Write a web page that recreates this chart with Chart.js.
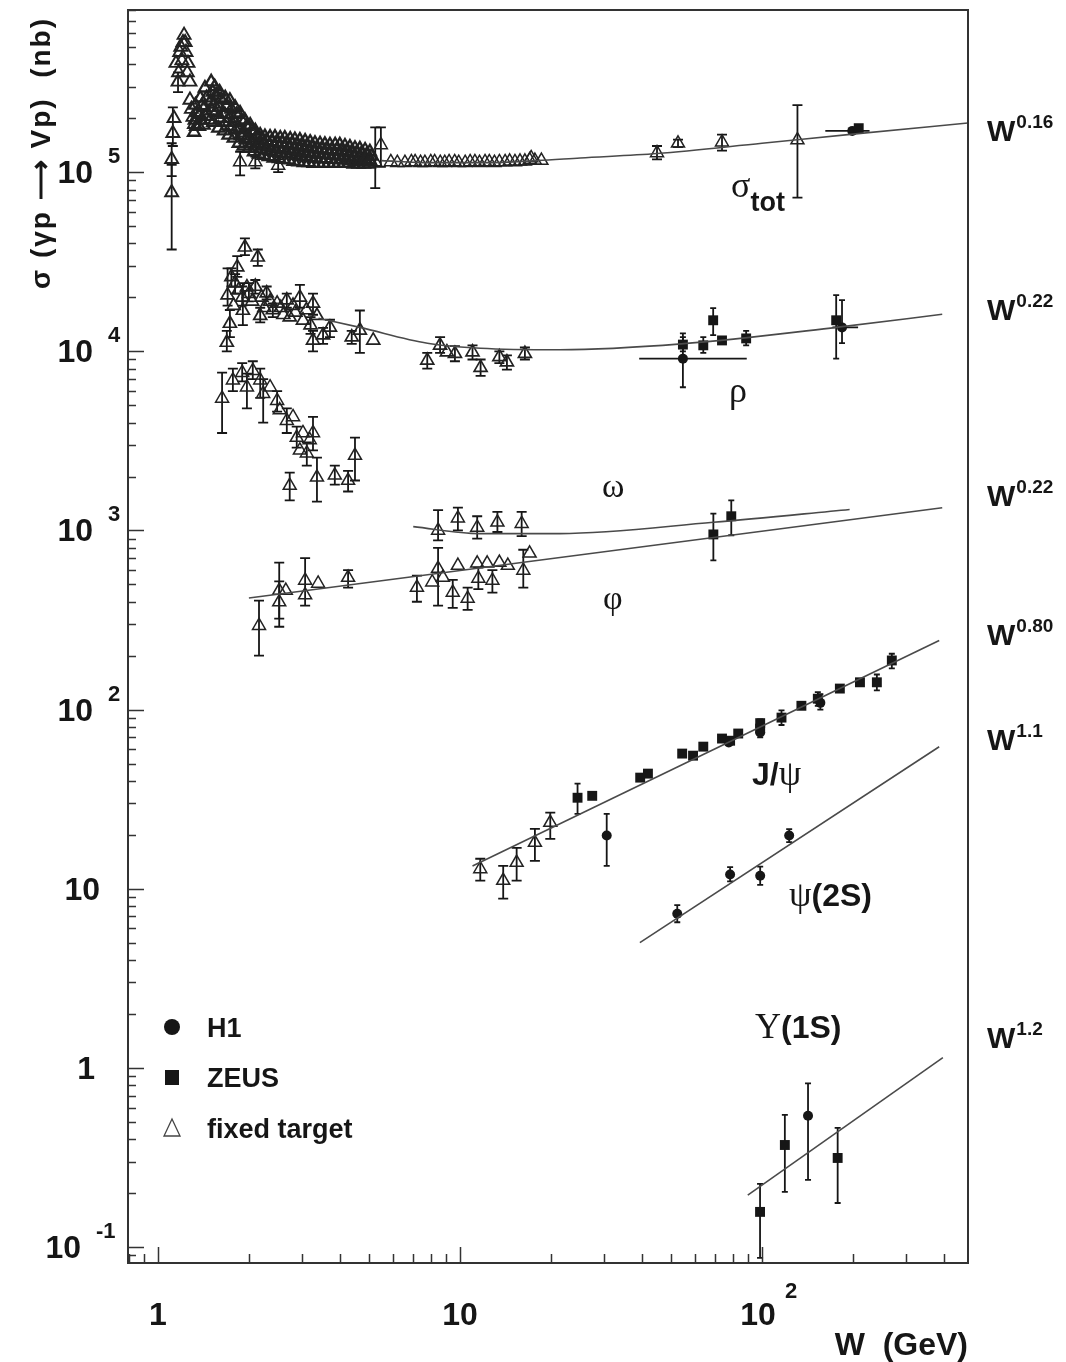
<!DOCTYPE html>
<html>
<head>
<meta charset="utf-8">
<script src="https://cdn.jsdelivr.net/npm/chart.js@4.4.0/dist/chart.umd.min.js"></script>
<style>
  body { margin: 0; background: #fff; }
  canvas { display: block; }
</style>
</head>
<body>
<canvas id="chart" width="1066" height="1362"></canvas>
<script>
// Each row: [W (GeV), sigma (nb), sigma low, sigma high, W low, W high]

// total photoabsorption, fixed target
const totFixed = [
  [1.11, 7.7e4, 3.7e4, 1.1e5], [1.11, 1.18e5, 9.5e4, 1.45e5], [1.12, 1.65e5, 1.4e5, 2.3e5], [1.13, 2.0e5],
  [1.147, 4.06e5], [1.165, 3.19e5, 2.8e5, 3.6e5], [1.17, 3.6e5], [1.18, 4.67e5], [1.19, 5.0e5], [1.2, 4.2e5],
  [1.21, 5.3e5], [1.22, 5.82e5], [1.23, 5.3e5], [1.238, 4.67e5], [1.25, 3.6e5], [1.257, 4.06e5],
  [1.276, 3.19e5], [1.276, 2.53e5], [1.29, 2.25e5], [1.306, 2.03e5], [1.32, 1.85e5]
];
// dense band between the resonances and ~5 GeV (five rows read from top to bottom)
const bandW    = [1.33, 1.38, 1.43, 1.5, 1.54, 1.6, 1.67, 1.73, 1.8, 1.87, 1.94, 2.02, 2.1, 2.18, 2.26, 2.35, 2.44, 2.54, 2.63, 2.74, 2.84, 2.95, 3.07, 3.19, 3.31, 3.44, 3.57, 3.71, 3.86, 4.0, 4.16, 4.32, 4.49, 4.66, 4.85, 5.03];
const bandHi   = [2.37e5, 2.6e5, 2.95e5, 3.19e5, 3.0e5, 2.8e5, 2.6e5, 2.52e5, 2.3e5, 2.14e5, 1.95e5, 1.83e5, 1.7e5, 1.61e5, 1.58e5, 1.57e5, 1.57e5, 1.55e5, 1.55e5, 1.53e5, 1.52e5, 1.51e5, 1.49e5, 1.47e5, 1.45e5, 1.44e5, 1.43e5, 1.42e5, 1.42e5, 1.42e5, 1.4e5, 1.38e5, 1.36e5, 1.35e5, 1.33e5, 1.3e5];
const bandUp   = [2.15e5, 2.35e5, 2.6e5, 2.8e5, 2.7e5, 2.55e5, 2.35e5, 2.25e5, 2.1e5, 1.95e5, 1.8e5, 1.7e5, 1.6e5, 1.53e5, 1.5e5, 1.48e5, 1.47e5, 1.46e5, 1.45e5, 1.44e5, 1.42e5, 1.41e5, 1.4e5, 1.38e5, 1.36e5, 1.35e5, 1.34e5, 1.33e5, 1.33e5, 1.32e5, 1.31e5, 1.29e5, 1.28e5, 1.27e5, 1.25e5, 1.23e5];
const bandMid  = [1.95e5, 2.1e5, 2.3e5, 2.5e5, 2.4e5, 2.3e5, 2.1e5, 2.0e5, 1.9e5, 1.75e5, 1.65e5, 1.55e5, 1.5e5, 1.45e5, 1.42e5, 1.4e5, 1.38e5, 1.37e5, 1.36e5, 1.35e5, 1.33e5, 1.32e5, 1.3e5, 1.29e5, 1.28e5, 1.27e5, 1.26e5, 1.25e5, 1.24e5, 1.23e5, 1.22e5, 1.21e5, 1.2e5, 1.19e5, 1.18e5, 1.17e5];
const bandDown = [1.8e5, 1.95e5, 2.05e5, 2.2e5, 2.15e5, 2.0e5, 1.9e5, 1.8e5, 1.72e5, 1.6e5, 1.52e5, 1.45e5, 1.4e5, 1.35e5, 1.33e5, 1.31e5, 1.29e5, 1.28e5, 1.27e5, 1.26e5, 1.24e5, 1.23e5, 1.22e5, 1.21e5, 1.2e5, 1.19e5, 1.19e5, 1.18e5, 1.18e5, 1.17e5, 1.17e5, 1.16e5, 1.15e5, 1.15e5, 1.14e5, 1.14e5];
const bandLo   = [1.67e5, 1.8e5, 1.83e5, 1.95e5, 1.9e5, 1.76e5, 1.7e5, 1.61e5, 1.55e5, 1.45e5, 1.4e5, 1.36e5, 1.3e5, 1.26e5, 1.24e5, 1.22e5, 1.2e5, 1.19e5, 1.18e5, 1.17e5, 1.15e5, 1.14e5, 1.13e5, 1.13e5, 1.12e5, 1.12e5, 1.12e5, 1.12e5, 1.12e5, 1.12e5, 1.12e5, 1.12e5, 1.11e5, 1.11e5, 1.11e5, 1.11e5];
const totFixedHigh = [
  [1.87, 1.14e5, 9.6e4, 1.3e5], [2.1, 1.14e5, 1.05e5, 1.22e5], [2.5, 1.09e5, 1.0e5, 1.18e5],
  [5.24, 1.14e5, 8.15e4, 1.78e5], [5.47, 1.42e5, 1.07e5, 1.78e5], [5.9, 1.14e5], [6.2, 1.13e5],
  [6.57, 1.13e5], [6.9, 1.14e5], [7.1, 1.14e5], [7.4, 1.13e5], [7.65, 1.13e5], [8.0, 1.14e5],
  [8.24, 1.14e5], [8.6, 1.13e5], [8.9, 1.13e5], [9.2, 1.14e5], [9.6, 1.14e5], [9.9, 1.13e5],
  [10.4, 1.13e5], [10.8, 1.14e5], [11.2, 1.14e5], [11.6, 1.13e5], [12.1, 1.14e5], [12.5, 1.14e5],
  [13.0, 1.13e5], [13.5, 1.14e5], [14.1, 1.14e5], [14.6, 1.15e5], [15.2, 1.14e5], [15.8, 1.15e5],
  [16.4, 1.15e5], [17.0, 1.17e5], [17.2, 1.2e5], [17.7, 1.16e5], [18.6, 1.16e5],
  [44.9, 1.28e5, 1.18e5, 1.4e5], [52.7, 1.45e5, 1.38e5, 1.52e5], [73.7, 1.47e5, 1.32e5, 1.62e5],
  [131, 1.51e5, 7.2e4, 2.37e5]
];
const totH1   = [[199, 1.7e5, null, null, 162, 227]];
const totZeus = [[209, 1.76e5]];

// rho
const rhoFixed = [
  [1.94, 3.81e4, 3.44e4, 4.27e4], [2.14, 3.35e4, 3.0e4, 3.7e4], [1.83, 2.95e4, 2.6e4, 3.4e4],
  [1.7, 2.06e4, 1.8e4, 2.9e4], [1.73, 1.43e4, 1.2e4, 1.7e4], [1.69, 1.12e4, 1.0e4, 1.3e4],
  [1.75, 2.6e4, 2.3e4, 2.9e4], [1.78, 1.8e4], [1.8, 2.4e4, 2.1e4, 2.7e4], [1.85, 2.2e4],
  [1.9, 2.0e4, 1.8e4, 2.3e4], [1.91, 1.69e4, 1.4e4, 2.4e4], [1.97, 2.28e4], [2.0, 2.1e4, 1.9e4, 2.4e4],
  [2.05, 1.9e4], [2.1, 2.3e4, 2.1e4, 2.5e4], [2.18, 1.58e4, 1.45e4, 1.75e4], [2.2, 2.0e4],
  [2.25, 1.75e4], [2.29, 2.11e4, 1.95e4, 2.3e4], [2.35, 1.9e4], [2.4, 1.7e4, 1.55e4, 1.85e4],
  [2.48, 1.85e4], [2.55, 1.75e4], [2.6, 1.6e4], [2.67, 1.93e4, 1.75e4, 2.1e4], [2.73, 1.55e4],
  [2.8, 1.8e4], [2.85, 1.65e4], [2.95, 2.0e4, 1.75e4, 2.35e4], [3.02, 1.49e4], [3.1, 1.7e4],
  [3.2, 1.4e4, 1.25e4, 1.55e4], [3.26, 1.85e4, 1.6e4, 2.1e4], [3.36, 1.58e4], [3.26, 1.15e4, 1.0e4, 1.3e4],
  [3.52, 1.23e4, 1.1e4, 1.35e4], [3.71, 1.36e4, 1.2e4, 1.5e4], [4.38, 1.2e4, 1.1e4, 1.3e4],
  [4.66, 1.31e4, 9.8e3, 1.69e4], [5.16, 1.15e4], [7.79, 8.9e3, 8.0e3, 9.8e3], [8.59, 1.08e4, 9.8e3, 1.2e4],
  [9.05, 9.9e3], [9.62, 9.7e3, 8.8e3, 1.07e4], [11.0, 9.9e3, 9.0e3, 1.08e4], [11.7, 8.1e3, 7.3e3, 9.0e3],
  [13.5, 9.3e3, 8.6e3, 1.0e4], [14.3, 8.7e3, 7.9e3, 9.5e3], [16.4, 9.7e3, 9.0e3, 1.05e4]
];
const rhoZeus = [
  [54.7, 1.09e4, 1.0e4, 1.2e4], [63.9, 1.08e4, 9.8e3, 1.2e4], [68.9, 1.49e4, 1.23e4, 1.74e4],
  [73.7, 1.15e4], [88.6, 1.18e4, 1.08e4, 1.3e4], [176, 1.49e4, 9.1e3, 2.06e4]
];
const rhoH1 = [[54.7, 9.1e3, 6.3e3, 1.26e4, 39.2, 89], [184, 1.36e4, 1.11e4, 1.93e4, 171, 208]];

// omega
const omegaFixed = [
  [1.63, 5.46e3, 3.5e3, 7.6e3], [1.77, 6.9e3, 6.0e3, 8.0e3], [1.9, 7.6e3, 6.8e3, 8.6e3],
  [1.97, 6.3e3, 4.8e3, 7.5e3], [2.06, 7.8e3, 7.0e3, 8.8e3], [2.18, 6.9e3, 5.5e3, 8.0e3],
  [2.23, 5.8e3, 4.0e3, 7.0e3], [2.35, 6.3e3], [2.48, 5.3e3, 4.6e3, 6.0e3], [2.53, 4.7e3],
  [2.67, 4.1e3, 3.5e3, 4.8e3], [2.8, 4.3e3], [2.88, 3.3e3, 2.9e3, 3.8e3], [2.95, 2.8e3],
  [3.02, 3.5e3], [3.11, 2.7e3, 2.3e3, 3.1e3], [3.18, 3.2e3], [3.26, 3.5e3, 2.8e3, 4.3e3],
  [2.73, 1.78e3, 1.47e3, 2.1e3], [3.36, 1.98e3, 1.45e3, 2.55e3], [3.85, 2.03e3, 1.8e3, 2.3e3],
  [4.26, 1.9e3, 1.65e3, 2.15e3], [4.49, 2.62e3, 1.9e3, 3.3e3],
  [8.46, 1.0e3, 8.8e2, 1.3e3], [9.84, 1.17e3, 1.0e3, 1.34e3], [11.4, 1.04e3, 9.0e2, 1.2e3],
  [13.3, 1.11e3, 9.8e2, 1.27e3], [16.0, 1.09e3, 9.3e2, 1.27e3]
];
const omegaZeus = [[79.1, 1.2e3, 9.4e2, 1.47e3]];

// phi
const phiFixed = [
  [2.16, 294, 200, 406], [2.52, 462, 322, 662], [2.52, 398, 290, 520], [2.65, 462],
  [3.07, 526, 380, 700], [3.07, 436], [3.39, 506], [4.26, 546, 480, 600],
  [7.2, 481, 400, 560], [8.09, 514], [8.46, 613, 380, 800], [8.78, 546], [9.46, 451, 370, 530],
  [9.84, 637], [10.6, 417, 360, 480], [11.4, 655], [11.5, 540, 470, 620], [12.3, 655],
  [12.8, 526, 450, 600], [13.5, 662], [14.4, 637], [16.2, 598, 480, 780], [17.0, 745]
];
const phiZeus = [[69, 950, 680, 1.24e3]];

// J/psi
const jpsiFixed = [
  [11.67, 12.9, 11.1, 14.7], [13.9, 11.1, 8.8, 13.4], [15.4, 14.0, 11.1, 16.9],
  [17.7, 18.1, 14.3, 21.6], [19.9, 23.4, 19.0, 26.6]
];
const jpsiZeus = [
  [24.5, 32.2, 26.2, 38.6], [27.4, 33.0], [39.5, 41.7], [41.9, 43.9], [54.4, 56.8], [59.1, 55.3],
  [63.9, 62.1], [73.7, 68.9], [78.4, 67], [83.4, 73.5], [98.6, 78.3, 70, 88], [98.6, 84],
  [116, 90.2, 82, 99], [135, 105], [153, 115, 105, 125], [181, 131], [211, 142],
  [240, 142, 128, 157], [269, 188, 170, 205]
];
const jpsiH1 = [[30.6, 19.8, 13.4, 26.2], [77.6, 65.5], [98.6, 74.5], [156, 109, 100, 122]];

// psi(2S), Upsilon(1S)
const psi2sH1  = [[52.4, 7.25, 6.5, 8.1], [78.4, 12.0, 11.0, 13.2], [98.6, 11.8, 10.5, 13.3], [123, 19.8, 18.2, 21.5]];
const upsZeus  = [[98.5, 0.157, 0.087, 0.225], [119, 0.371, 0.203, 0.546], [178, 0.314, 0.176, 0.462]];
const upsH1    = [[142, 0.54, 0.237, 0.82]];

// fitted curves
const fitTot   = [[5.5, 1.16e5], [8, 1.13e5], [12, 1.13e5], [18, 1.16e5], [25, 1.2e5], [45, 1.27e5], [100, 1.45e5], [200, 1.63e5], [480, 1.88e5]];
const fitRho   = [[3.4, 1.53e4], [4.66, 1.36e4], [7.8, 1.11e4], [11.7, 1.04e4], [21.4, 1.02e4], [54, 1.1e4], [176, 1.36e4], [395, 1.61e4]];
const fitOmega = [[7.0, 1.05e3], [11.6, 9.6e2], [21.4, 9.6e2], [69, 1.11e3], [195, 1.31e3]];
const fitPhi   = [[2.0, 420], [395, 1.34e3]];
const fitJpsi  = [[11.0, 13.4], [386, 243]];
const fitPsi2s = [[39.4, 5.0], [386, 62]];
const fitUps   = [[89.7, 0.195], [397, 1.14]];

// axes
const xMin = 0.7956, xMax = 480.8, yMin = 0.0814, yMax = 8.04e5;
const yTickVals = [1e5, 1e4, 1e3, 1e2, 10, 1, 0.1];
const yTickBase = ['10', '10', '10', '10', '10', '1', '10'];
const yTickExp  = ['5', '4', '3', '2', '', '', '-1'];
const xTickVals = [1, 10, 100];
const xTickBase = ['1', '10', '10'];
const xTickExp  = ['', '', '2'];
const fitPowers = ['0.16', '0.22', '0.22', '0.80', '1.1', '1.2'];

const INK = '#161616';

function pts(rows) {
  return rows.map(r => ({ x: r[0], y: r[1], yl: r[2], yh: r[3], xl: r[4], xh: r[5] }));
}

const bandRows = [];
bandW.forEach((w, i) => {
  bandRows.push([w, bandHi[i]], [w * 1.012, bandUp[i]], [w * 0.996, bandMid[i]],
                [w * 1.006, bandDown[i]], [w * 0.99, bandLo[i]]);
});

function fixedSet(rows, r, bw) {
  return {
    data: pts(rows), errCap: 5,
    pointStyle: 'triangle', pointRadius: r || 7.5, pointBorderWidth: bw || 1.5,
    pointBorderColor: '#222', pointBackgroundColor: 'rgba(255,255,255,0)'
  };
}
function zeusSet(rows) {
  return {
    data: pts(rows), errCap: 3,
    pointStyle: 'rect', pointRadius: 7, pointBorderWidth: 0,
    pointBorderColor: INK, pointBackgroundColor: INK
  };
}
function h1Set(rows) {
  return {
    data: pts(rows), errCap: 3,
    pointStyle: 'circle', pointRadius: 5, pointBorderWidth: 0,
    pointBorderColor: INK, pointBackgroundColor: INK
  };
}
function fitSet(rows, curved) {
  return {
    data: pts(rows), showLine: true, pointRadius: 0,
    borderColor: '#4a4a4a', borderWidth: 1.6,
    tension: curved ? 0.4 : 0,
    cubicInterpolationMode: curved ? 'monotone' : 'default'
  };
}

// error bars, drawn with the chart's own scales
const errorBars = {
  id: 'errorBars',
  beforeDatasetsDraw(chart) {
    const { ctx, chartArea: a } = chart;
    const xs = chart.scales.x, ys = chart.scales.y;
    ctx.save();
    ctx.beginPath();
    ctx.rect(a.left, a.top, a.right - a.left, a.bottom - a.top);
    ctx.clip();
    ctx.strokeStyle = INK;
    ctx.lineWidth = 1.8;
    chart.data.datasets.forEach(ds => {
      if (!ds.errCap) return;
      const cap = ds.errCap;
      ds.data.forEach(p => {
        const px = xs.getPixelForValue(p.x), py = ys.getPixelForValue(p.y);
        ctx.beginPath();
        if (p.yl != null) {
          const y1 = ys.getPixelForValue(p.yl), y2 = ys.getPixelForValue(p.yh);
          ctx.moveTo(px, y1); ctx.lineTo(px, y2);
          ctx.moveTo(px - cap, y1); ctx.lineTo(px + cap, y1);
          ctx.moveTo(px - cap, y2); ctx.lineTo(px + cap, y2);
        }
        if (p.xl != null) {
          ctx.moveTo(xs.getPixelForValue(p.xl), py);
          ctx.lineTo(xs.getPixelForValue(p.xh), py);
        }
        ctx.stroke();
      });
    });
    ctx.restore();
  }
};

function txt(ctx, s, x, y, font, align) {
  ctx.font = font;
  ctx.textAlign = align || 'left';
  ctx.fillText(s, x, y);
  return ctx.measureText(s).width;
}

const SANS = '"Liberation Sans", Arial, sans-serif';
const SERIF = '"Liberation Serif", "Times New Roman", serif';

// frame, ticks, labels, legend
const decorations = {
  id: 'decorations',
  afterDraw(chart) {
    const { ctx, chartArea: a } = chart;
    const xs = chart.scales.x, ys = chart.scales.y;
    ctx.save();
    ctx.strokeStyle = '#333';
    ctx.lineWidth = 2;
    ctx.strokeRect(a.left, a.top, a.right - a.left, a.bottom - a.top);

    ctx.lineWidth = 1.5;
    ctx.beginPath();
    for (let e = -2; e <= 5; e++) {
      for (let m = 1; m <= 9; m++) {
        const v = m * Math.pow(10, e);
        if (v < yMin || v > yMax) continue;
        const y = Math.round(ys.getPixelForValue(v)) + 0.5;
        ctx.moveTo(a.left, y); ctx.lineTo(a.left + (m === 1 ? 16 : 8), y);
      }
    }
    for (let e = -1; e <= 2; e++) {
      for (let m = 1; m <= 9; m++) {
        const v = m * Math.pow(10, e);
        if (v < xMin || v > xMax) continue;
        const x = Math.round(xs.getPixelForValue(v)) + 0.5;
        ctx.moveTo(x, a.bottom); ctx.lineTo(x, a.bottom - (m === 1 ? 16 : 9));
      }
    }
    ctx.stroke();

    ctx.fillStyle = INK;
    ctx.textBaseline = 'alphabetic';
    const big = 'bold 32px ' + SANS, sup = 'bold 22px ' + SANS;

    yTickVals.forEach((v, i) => {
      const y = ys.getPixelForValue(v);
      if (yTickExp[i]) {
        const ex = yTickExp[i].length > 1 ? 96 : 108;
        txt(ctx, yTickBase[i], ex - 15, y + 11, big, 'right');
        txt(ctx, yTickExp[i], ex, y - 9, sup);
      } else {
        txt(ctx, yTickBase[i], yTickBase[i].length > 1 ? 100 : 95, y + 11, big, 'right');
      }
    });
    xTickVals.forEach((v, i) => {
      const x = xs.getPixelForValue(v);
      if (xTickExp[i]) {
        txt(ctx, xTickBase[i], x - 4, 1325, big, 'center');
        txt(ctx, xTickExp[i], x + 23, 1298, sup);
      } else {
        txt(ctx, xTickBase[i], x, 1325, big, 'center');
      }
    });
    txt(ctx, 'W  (GeV)', 968, 1355, 'bold 32px ' + SANS, 'right');

    // y axis title
    ctx.save();
    ctx.translate(50, 153);
    ctx.rotate(-Math.PI / 2);
    ctx.letterSpacing = '2px';
    txt(ctx, 'σ (γp ⟶ Vp)  (nb)', 0, 0, 'bold 28px ' + SANS, 'center');
    ctx.restore();

    // power labels on the right
    const powerY = [141, 320, 506, 645, 750, 1048];
    fitPowers.forEach((p, i) => {
      const w = txt(ctx, 'W', 987, powerY[i], 'bold 30px ' + SANS);
      txt(ctx, p, 987 + w + 1, powerY[i] - 13, 'bold 19px ' + SANS);
    });

    // curve names
    let w = txt(ctx, 'σ', 731, 197, '36px ' + SERIF);
    txt(ctx, 'tot', 731 + w, 211, 'bold 27px ' + SANS);
    txt(ctx, 'ρ', 729, 402, '36px ' + SERIF);
    txt(ctx, 'ω', 602, 497, '34px ' + SERIF);
    txt(ctx, 'φ', 603, 609, '34px ' + SERIF);
    w = txt(ctx, 'J/', 752, 785, 'bold 32px ' + SANS);
    txt(ctx, 'ψ', 752 + w, 785, '36px ' + SERIF);
    w = txt(ctx, 'ψ', 789, 906, '36px ' + SERIF);
    txt(ctx, '(2S)', 789 + w, 906, 'bold 32px ' + SANS);
    w = txt(ctx, 'Υ', 755, 1038, '36px ' + SERIF);
    txt(ctx, '(1S)', 755 + w, 1038, 'bold 32px ' + SANS);

    // legend
    ctx.beginPath();
    ctx.arc(172, 1027, 8, 0, Math.PI * 2);
    ctx.fill();
    ctx.fillRect(165, 1070, 14, 15);
    ctx.strokeStyle = '#444';
    ctx.lineWidth = 1.3;
    ctx.beginPath();
    ctx.moveTo(172, 1119); ctx.lineTo(180, 1136); ctx.lineTo(164, 1136); ctx.closePath();
    ctx.stroke();
    const lf = 'bold 27px ' + SANS;
    txt(ctx, 'H1', 207, 1037, lf);
    txt(ctx, 'ZEUS', 207, 1087, lf);
    txt(ctx, 'fixed target', 207, 1138, lf);
    ctx.restore();
  }
};

new Chart(document.getElementById('chart'), {
  type: 'scatter',
  data: {
    datasets: [
      fitSet(fitTot, true), fitSet(fitRho, true), fitSet(fitOmega, true), fitSet(fitPhi, false),
      fitSet(fitJpsi, false), fitSet(fitPsi2s, false), fitSet(fitUps, false),
      fixedSet(totFixed, 7.5, 1.9), fixedSet(bandRows, 7, 2.3), fixedSet(totFixedHigh),
      fixedSet(rhoFixed, 7.5, 1.7), fixedSet(omegaFixed), fixedSet(phiFixed), fixedSet(jpsiFixed),
      zeusSet(totZeus), zeusSet(rhoZeus), zeusSet(omegaZeus), zeusSet(phiZeus), zeusSet(jpsiZeus), zeusSet(upsZeus),
      h1Set(totH1), h1Set(rhoH1), h1Set(jpsiH1), h1Set(psi2sH1), h1Set(upsH1)
    ]
  },
  options: {
    responsive: false,
    animation: false,
    devicePixelRatio: 1,
    layout: { padding: { left: 128, right: 98, top: 10, bottom: 99 } },
    scales: {
      x: { type: 'logarithmic', display: false, min: xMin, max: xMax, bounds: 'data' },
      y: { type: 'logarithmic', display: false, min: yMin, max: yMax, bounds: 'data' }
    },
    plugins: { legend: { display: false }, tooltip: { enabled: false } }
  },
  plugins: [errorBars, decorations]
});
</script>
</body>
</html>
